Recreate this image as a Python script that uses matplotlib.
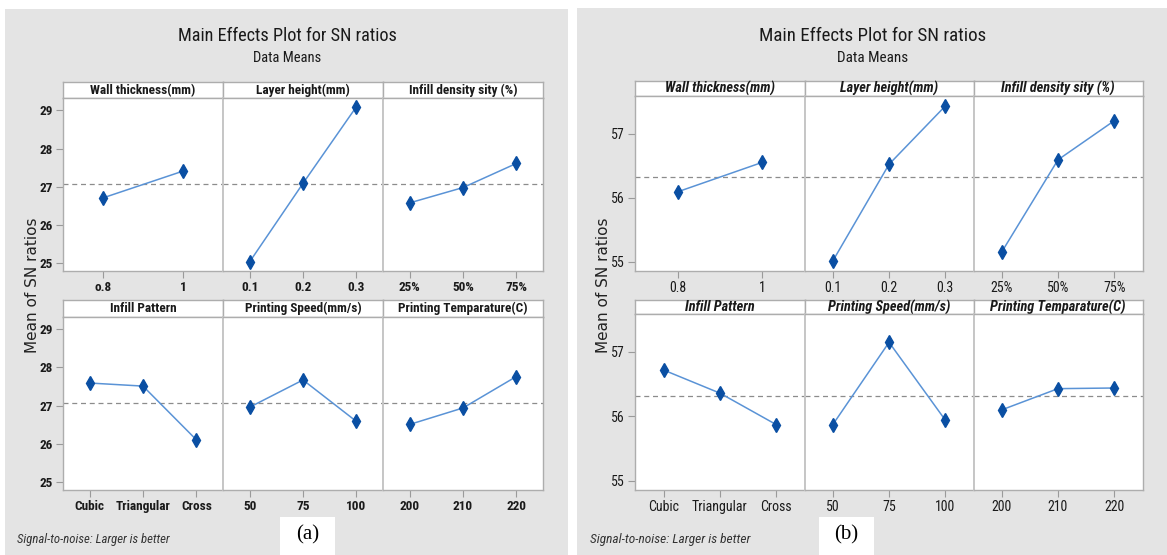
import os
import numpy as np
import matplotlib
matplotlib.use("Agg")
import matplotlib.pyplot as plt
from matplotlib import font_manager as fm
from matplotlib.patches import Rectangle

# ---- data -------------------------------------------------------------
factors = ["Wall thickness(mm)", "Layer height(mm)", "Infill density sity (%)",
           "Infill Pattern", "Printing Speed(mm/s)", "Printing Temparature(C)"]

levels_a = [["o.8", "1"], ["0.1", "0.2", "0.3"], ["25%", "50%", "75%"],
            ["Cubic", "Triangular", "Cross"], ["50", "75", "100"], ["200", "210", "220"]]
levels_b = [["0.8", "1"], ["0.1", "0.2", "0.3"], ["25%", "50%", "75%"],
            ["Cubic", "Triangular", "Cross"], ["50", "75", "100"], ["200", "210", "220"]]

# mean SN ratio per factor level, experiment (a)
wall_a = [26.71, 27.41]
layer_a = [25.04, 27.09, 29.09]
infill_a = [26.58, 26.98, 27.61]
pattern_a = [27.59, 27.51, 26.11]
speed_a = [26.96, 27.67, 26.59]
temp_a = [26.51, 26.94, 27.76]

# mean SN ratio per factor level, experiment (b)
wall_b = [56.09, 56.55]
layer_b = [55.01, 56.52, 57.43]
infill_b = [55.15, 56.59, 57.20]
pattern_b = [56.72, 56.36, 55.87]
speed_b = [55.87, 57.15, 55.94]
temp_b = [56.10, 56.43, 56.44]

yticks_a = [25, 26, 27, 28, 29]
yticks_b = [55, 56, 57]

# ---- fonts ------------------------------------------------------------
# a narrow sans face is preferred for the chart text
NARROW_PREFIXES = ["liberationsansnarrow", "notosans-extracondensed",
                   "notosans-condensed", "robotocondensed", "opensans-condensed",
                   "opensanscondensed", "dejavusanscondensed"]
OTHER_WEIGHTS = ["light", "thin", "medium", "black", "heavy", "extralight"]


def _variant_ok(base, bold, italic):
    b = base.lower()
    if any(w in b for w in ["semibold", "extrabold", "demibold", "semi", "extra"]):
        return False
    if any(w in b for w in OTHER_WEIGHTS):
        return False
    is_bold = "bold" in b
    is_ital = "italic" in b or "oblique" in b
    return is_bold == bold and is_ital == italic


def find_font(bold=False, italic=False):
    files = sorted({f.fname for f in fm.fontManager.ttflist})
    for pre in NARROW_PREFIXES:
        for fn in files:
            base = os.path.splitext(os.path.basename(fn))[0]
            key = base.lower().replace("_", "").replace(" ", "")
            if key.startswith(pre):
                rest = key[len(pre):]
                if _variant_ok(rest, bold, italic):
                    return fm.FontProperties(fname=fn)
    return fm.FontProperties(family=["Roboto", "DejaVu Sans"],
                             weight="bold" if bold else "normal",
                             style="italic" if italic else "normal")


W, H = 1167, 555
fig = plt.figure(figsize=(W / 100, H / 100), dpi=100)
fig.patch.set_facecolor("white")
renderer = fig.canvas.get_renderer()


def sized(fp, text, target_px, max_pt=None):
    """Return a copy of fp whose size makes `text` about target_px wide."""
    p = fp.copy()
    p.set_size(10)
    w, _, _ = renderer.get_text_width_height_descent(text, p, ismath=False)
    size = 10 * target_px / w
    if max_pt is not None:
        size = min(size, max_pt)
    p.set_size(size)
    return p


F_REG = find_font(False, False)
F_BOLD = find_font(True, False)
F_ITAL = find_font(False, True)
F_BOLDITAL = find_font(True, True)

BG = "#e4e4e4"
FRAME = "#adadad"
LINE = "#5a93d6"
MARK = "#0a4fa3"
TXT = "#1a1a1a"


def px_axes(x0, y0, x1, y1):
    return fig.add_axes([x0 / W, 1 - y1 / H, (x1 - x0) / W, (y1 - y0) / H])


def draw_panel(p):
    fig.patches.append(Rectangle((p["bg"][0] / W, 1 - p["bg"][3] / H),
                                 (p["bg"][2] - p["bg"][0]) / W,
                                 (p["bg"][3] - p["bg"][1]) / H,
                                 transform=fig.transFigure, facecolor=BG,
                                 edgecolor="none", zorder=-10))
    cx = p["title_x"]
    title = "Main Effects Plot for SN ratios"
    fig.text(cx / W, 1 - 36 / H, title, fontproperties=sized(F_REG, title, p["w_title"], 17),
             color=TXT, ha="center", va="center")
    sub = "Data Means"
    fig.text(cx / W, 1 - 58 / H, sub, fontproperties=sized(F_REG, sub, p["w_sub"], 13),
             color=TXT, ha="center", va="center")
    fig.text(p["ylab_x"] / W, 1 - 285 / H, "Mean of SN ratios", family="DejaVu Sans",
             fontsize=11, color="#222222", rotation=90, ha="center", va="center")
    note = "Signal-to-noise: Larger is better"
    fig.text(p["note_x"] / W, 1 - 540 / H, note,
             fontproperties=sized(F_ITAL, note, p["w_note"], 11.5),
             color="#333333", ha="left", va="center")
    bx0, bx1 = p["tag_box"]
    fig.patches.append(Rectangle((bx0 / W, 0), (bx1 - bx0) / W, (555 - 516.5) / H,
                                 transform=fig.transFigure, facecolor="white",
                                 edgecolor="none", zorder=-5))
    fig.text((bx0 + bx1) / 2 / W, 1 - 535 / H, p["tag"],
             family=["Liberation Serif", "DejaVu Serif"],
             fontsize=15, color="black", ha="center", va="center")

    head_fp = sized(p["head_font"], factors[0], p["w_head"], 12)
    tick_fp = sized(p["tick_font"], "Triangular", p["w_tick"], 12.5)

    for k in range(6):
        r, c = divmod(k, 3)
        htop, hbot, pbot = p["rows"][r]
        x0, x1 = p["cols"][c], p["cols"][c + 1]
        hax = px_axes(x0, htop, x1, hbot)
        hax.set_xticks([])
        hax.set_yticks([])
        for s in hax.spines.values():
            s.set_color(FRAME)
            s.set_linewidth(1.0)
        hax.text(0.5, 0.47, factors[k], transform=hax.transAxes, ha="center",
                 va="center", fontproperties=head_fp, color=TXT)

        ax = px_axes(x0, hbot, x1, pbot)
        vals = p["data"][k]
        labs = p["levels"][k]
        xs = np.arange(len(vals))
        ax.axhline(p["mean"], color="#8c8c8c", lw=0.9, ls=(0, (4, 3)), zorder=1)
        ax.plot(xs, vals, color=LINE, lw=1.1, zorder=2)
        ax.plot(xs, vals, ls="none", marker="d", ms=7, mfc=MARK, mec=MARK, zorder=3)
        ax.set_xlim(-0.5, len(vals) - 0.5)
        ax.set_ylim(*p["ylim"])
        ax.set_xticks(xs)
        ax.set_xticklabels(labs, fontproperties=tick_fp, color=TXT)
        ax.set_yticks(p["yticks"])
        ax.set_yticklabels([str(t) for t in p["yticks"]], fontproperties=tick_fp,
                           color=TXT)
        ax.tick_params(axis="both", length=5, width=0.8, color="#9a9a9a", pad=2.5)
        if c != 0:
            ax.tick_params(axis="y", left=False, labelleft=False)
        for s in ax.spines.values():
            s.set_color(FRAME)
            s.set_linewidth(1.0)
        for side in ("left", "right"):
            if (side == "left" and c != 0) or (side == "right" and c != 2):
                ax.spines[side].set_color("#c6c6c6")
                ax.spines[side].set_linewidth(1.4)


panel_a = dict(
    bg=(5, 9, 568, 555), cols=[63, 223, 383, 543],
    rows=[(81.7, 98, 271), (299.5, 316.7, 490)],
    ylim=(24.80, 29.32), yticks=yticks_a,
    data=[wall_a, layer_a, infill_a, pattern_a, speed_a, temp_a],
    levels=levels_a, head_font=F_BOLD, tick_font=F_BOLD,
    title_x=287, w_title=218, w_sub=68, w_head=106, w_tick=55, w_note=152,
    ylab_x=33, note_x=17, tag_box=(280, 335), tag="(a)",
)
panel_a["mean"] = np.mean([np.mean(v) for v in panel_a["data"]])

panel_b = dict(
    bg=(577, 8, 1167, 555), cols=[635.3, 804.6, 973.5, 1142.5],
    rows=[(81, 95.7, 271), (300, 314, 490)],
    ylim=(54.855, 57.59), yticks=yticks_b,
    data=[wall_b, layer_b, infill_b, pattern_b, speed_b, temp_b],
    levels=levels_b, head_font=F_BOLDITAL, tick_font=F_REG,
    title_x=873, w_title=226, w_sub=71, w_head=110, w_tick=56, w_note=160,
    ylab_x=603, note_x=590, tag_box=(819, 874), tag="(b)",
)
panel_b["mean"] = np.mean([np.mean(v) for v in panel_b["data"]])

draw_panel(panel_a)
draw_panel(panel_b)

fig.savefig("out.png", dpi=100, facecolor="white")
